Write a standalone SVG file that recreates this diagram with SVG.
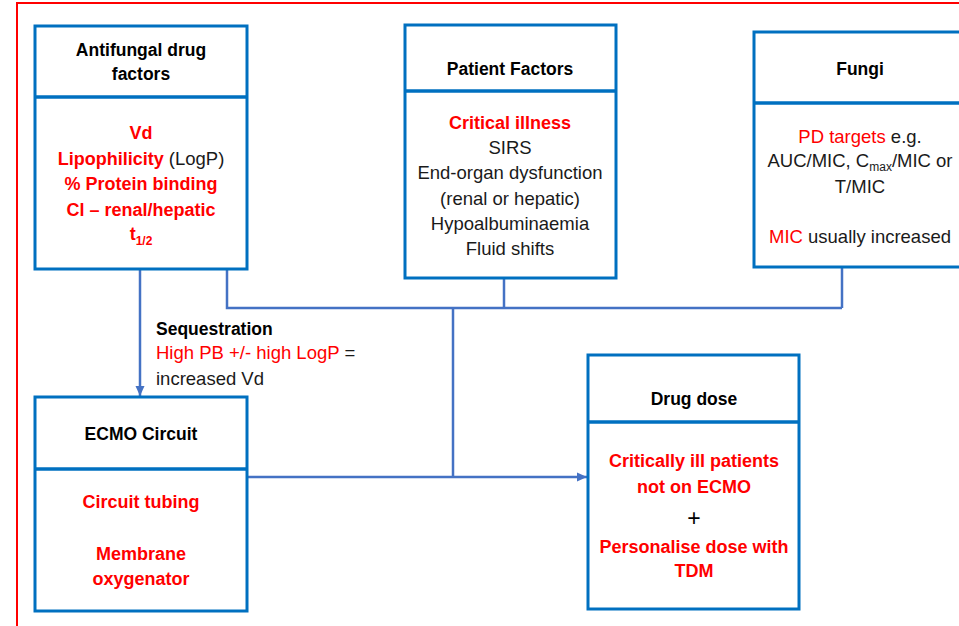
<svg xmlns="http://www.w3.org/2000/svg" width="959" height="626" viewBox="0 0 959 626">
<defs>
<style>
.box{fill:#fff;stroke:#0070C0;stroke-width:3}
.div{stroke:#0070C0;stroke-width:3.5}
.con{fill:none;stroke:#4472C4;stroke-width:2.5}
text{font-family:"Liberation Sans",Arial,sans-serif;text-anchor:middle}
.t{font-weight:bold;font-size:17.5px;fill:#000}
.rb{font-weight:bold;font-size:18px;fill:#FF0000}
.rg{font-size:18.5px;fill:#1a1a1a}
.rr{font-size:18.5px;fill:#FF0000}
.lab{text-anchor:start}
</style>
<marker id="ah" markerUnits="userSpaceOnUse" markerWidth="10" markerHeight="10" viewBox="0 0 10 10" refX="10" refY="5" orient="auto">
<path d="M0,0.5 L10,5 L0,9.5 Z" fill="#4472C4"/>
</marker>
</defs>
<rect x="0" y="0" width="959" height="626" fill="#fff"/>
<rect x="17" y="3" width="960" height="640" fill="none" stroke="#FF0000" stroke-width="2"/>

<g id="connectors">
<path class="con" d="M140,269 V396" marker-end="url(#ah)"/>
<path class="con" d="M227,269 V308 H842"/>
<path class="con" d="M504,278 V308"/>
<path class="con" d="M842,267 V308"/>
<path class="con" d="M453,308 V477"/>
<path class="con" d="M247,477 H587" marker-end="url(#ah)"/>
</g>

<g id="antifungal">
<rect class="box" x="35" y="26" width="212" height="243"/>
<line class="div" x1="35" y1="97" x2="247" y2="97"/>
<text class="t" x="141" y="56">Antifungal drug</text>
<text class="t" x="141" y="80">factors</text>
<text class="rb" x="141" y="139">Vd</text>
<text x="141" y="165"><tspan class="rb">Lipophilicity</tspan><tspan class="rg"> (LogP)</tspan></text>
<text class="rb" x="141" y="190">% Protein binding</text>
<text class="rb" x="141" y="216">Cl – renal/hepatic</text>
<text class="rb" x="141" y="240">t<tspan font-size="12" dy="5">1/2</tspan></text>
</g>

<g id="patient">
<rect class="box" x="405" y="25" width="211" height="253"/>
<line class="div" x1="405" y1="91" x2="616" y2="91"/>
<text class="t" x="510" y="75">Patient Factors</text>
<text class="rb" x="510" y="129">Critical illness</text>
<text class="rg" x="510" y="154">SIRS</text>
<text class="rg" x="510" y="179">End-organ dysfunction</text>
<text class="rg" x="510" y="205">(renal or hepatic)</text>
<text class="rg" x="510" y="230">Hypoalbuminaemia</text>
<text class="rg" x="510" y="255">Fluid shifts</text>
</g>

<g id="fungi">
<rect class="box" x="754" y="32" width="215" height="235"/>
<line class="div" x1="754" y1="103" x2="969" y2="103"/>
<text class="t" x="860" y="75">Fungi</text>
<text x="860" y="143"><tspan class="rr">PD targets</tspan><tspan class="rg"> e.g.</tspan></text>
<text class="rg" x="860" y="167">AUC/MIC, C<tspan font-size="12" dy="4">max</tspan><tspan dy="-4">/MIC or</tspan></text>
<text class="rg" x="860" y="193">T/MIC</text>
<text x="860" y="243"><tspan class="rr">MIC</tspan><tspan class="rg"> usually increased</tspan></text>
</g>

<g id="sequestration-label">
<text class="t lab" x="156" y="335">Sequestration</text>
<text class="rg lab" x="156" y="359"><tspan fill="#FF0000">High PB +/- high LogP</tspan> =</text>
<text class="rg lab" x="156" y="385">increased Vd</text>
</g>

<g id="ecmo">
<rect class="box" x="35" y="397" width="212" height="214"/>
<line class="div" x1="35" y1="469" x2="247" y2="469"/>
<text class="t" x="141" y="440">ECMO Circuit</text>
<text class="rb" x="141" y="508">Circuit tubing</text>
<text class="rb" x="141" y="560">Membrane</text>
<text class="rb" x="141" y="585">oxygenator</text>
</g>

<g id="drugdose">
<rect class="box" x="588" y="355" width="211" height="254"/>
<line class="div" x1="588" y1="422" x2="799" y2="422"/>
<text class="t" x="694" y="405">Drug dose</text>
<text class="rb" x="694" y="467">Critically ill patients</text>
<text class="rb" x="694" y="493">not on ECMO</text>
<text x="694" y="526" font-size="23" fill="#000">+</text>
<text class="rb" x="694" y="553">Personalise dose with</text>
<text class="rb" x="694" y="577">TDM</text>
</g>
</svg>
